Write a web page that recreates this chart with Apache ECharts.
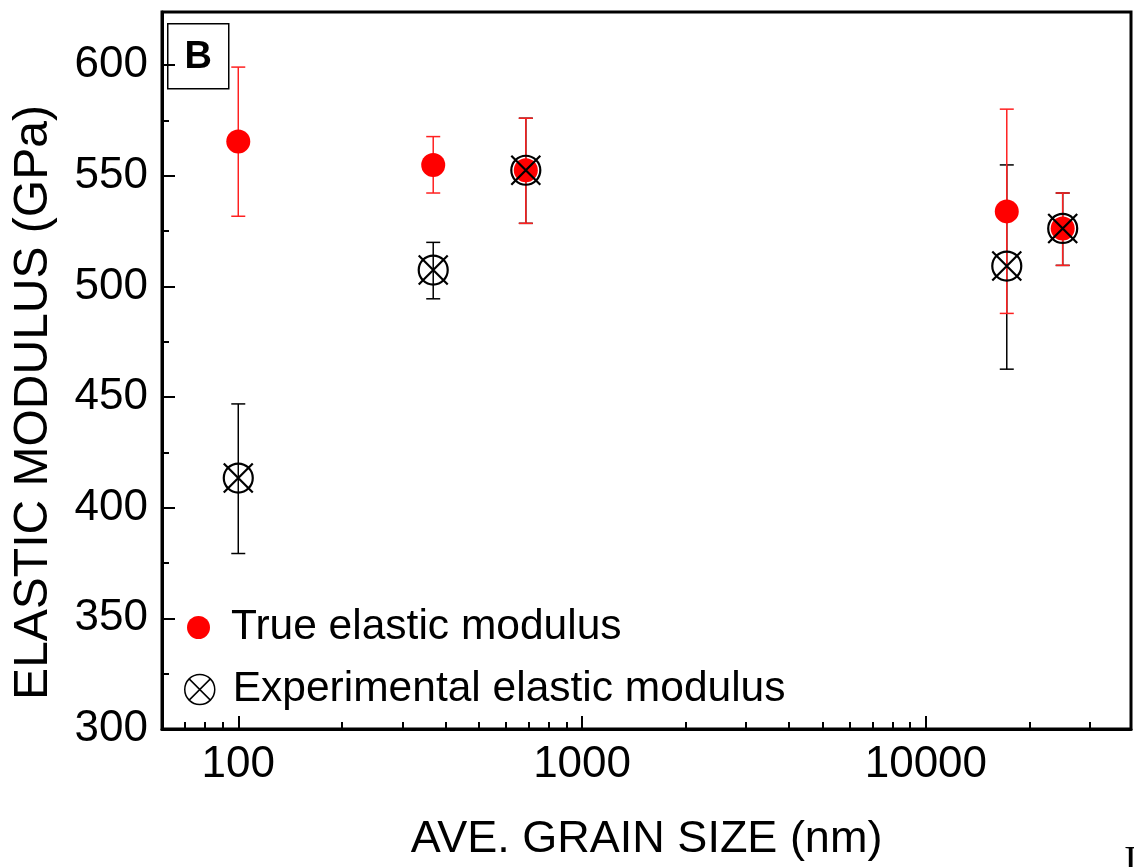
<!DOCTYPE html>
<html><head><meta charset="utf-8">
<script src="https://cdn.jsdelivr.net/npm/echarts@6/dist/echarts.min.js"></script>
<style>html,body{margin:0;padding:0;background:#fff}#c{width:1134px;height:867px}</style>
</head><body><div id="c"></div>
<script>
// ---- data ----
const grainSize   = [100, 369, 686, 17190, 25000];
const trueModulus = [565.5, 554.9, 552.5, 533.9, 526.2];
const trueLow     = [531.7, 542.2, 528.5, 487.8, 509.5];
const trueHigh    = [599.1, 567.7, 576.0, 580.1, 542.2];
const expModulus  = [413.4, 507.4, 552.5, 509.2, 526.2];
const expLow      = [379.3, 494.4, 528.5, 462.6, 509.5];
const expHigh     = [446.9, 519.9, 576.0, 554.9, 542.2];
const xMajorTicks = [100, 1000, 10000];
const xMinorTicks = [70, 80, 90, 200, 300, 400, 500, 600, 700, 800, 900,
                     2000, 3000, 4000, 5000, 6000, 7000, 8000, 9000, 20000, 30000];
const yMajorTicks = [300, 350, 400, 450, 500, 550, 600];
const yMinorTicks = [325, 375, 425, 475, 525, 575];
const seriesNames = ['True elastic modulus', 'Experimental elastic modulus'];

const FONT = '"Liberation Sans", Arial, Helvetica, sans-serif';
const X_MIN = 60, X_MAX = 39500, Y_MIN = 300, Y_MAX = 624;

const trueBars = grainSize.map((x, i) => [x, trueLow[i], trueHigh[i]]);
const expBars  = grainSize.map((x, i) => [x, expLow[i], expHigh[i]]);
const truePts  = grainSize.map((x, i) => [x, trueModulus[i]]);
const expPts   = grainSize.map((x, i) => [x, expModulus[i]]);

const OTIMES_MARK = 'path://M29,15 A14,14 0 1 1 1,15 A14,14 0 1 1 29,15 Z M1,1 L29,29 M29,1 L1,29';
const OTIMES_GLYPH = 'path://M29,15 A14,14 0 1 1 1,15 A14,14 0 1 1 29,15 Z M5.1,5.1 L24.9,24.9 M24.9,5.1 L5.1,24.9';

function errBar(color) {
  return function (params, api) {
    const x = api.value(0), lo = api.value(1), hi = api.value(2);
    const pLo = api.coord([x, lo]), pHi = api.coord([x, hi]);
    const hw = 7;
    const style = { stroke: color, lineWidth: 1.5, fill: null };
    return { type: 'group', children: [
      { type: 'line', shape: { x1: pLo[0], y1: pLo[1], x2: pHi[0], y2: pHi[1] }, style },
      { type: 'line', shape: { x1: pLo[0] - hw, y1: pLo[1], x2: pLo[0] + hw, y2: pLo[1] }, style },
      { type: 'line', shape: { x1: pHi[0] - hw, y1: pHi[1], x2: pHi[0] + hw, y2: pHi[1] }, style }
    ]};
  };
}

const chart = echarts.init(document.getElementById('c'), null, { renderer: 'canvas' });
chart.setOption({
  animation: false,
  backgroundColor: '#fff',
  textStyle: { fontFamily: FONT, color: '#000' },
  grid: { left: 162, right: 3, top: 12, bottom: 138, show: true, borderColor: '#000', borderWidth: 3, backgroundColor: 'transparent', containLabel: false },
  xAxis: [{
    type: 'log', logBase: 10, min: X_MIN, max: X_MAX,
    name: 'AVE. GRAIN SIZE (nm)', nameLocation: 'middle', nameGap: 88,
    nameTextStyle: { fontSize: 45, fontFamily: FONT, color: '#000' },
    axisLine: { show: true, lineStyle: { color: '#000', width: 3 } },
    axisTick: { show: true, inside: true, length: 13, customValues: xMajorTicks, lineStyle: { color: '#000', width: 2 } },
    axisLabel: { show: true, customValues: xMajorTicks, fontSize: 44, fontFamily: FONT, color: '#000', margin: 14,
                 formatter: v => String(Math.round(v)) },
    splitLine: { show: false }, minorTick: { show: false }
  }, {
    type: 'log', logBase: 10, min: X_MIN, max: X_MAX, position: 'bottom', gridIndex: 0,
    axisLine: { show: false },
    axisTick: { show: true, inside: true, length: 7, customValues: xMinorTicks, lineStyle: { color: '#000', width: 2 } },
    axisLabel: { show: false }, splitLine: { show: false }
  }],
  yAxis: [{
    type: 'value', min: Y_MIN, max: Y_MAX,
    name: 'ELASTIC MODULUS (GPa)', nameLocation: 'middle', nameGap: 104,
    nameTextStyle: { fontSize: 48, fontFamily: FONT, color: '#000', padding: [0, 64, 0, 0] },
    axisLine: { show: true, lineStyle: { color: '#000', width: 3 } },
    axisTick: { show: true, inside: true, length: 13, customValues: yMajorTicks, lineStyle: { color: '#000', width: 2 } },
    axisLabel: { show: true, customValues: yMajorTicks, fontSize: 44, fontFamily: FONT, color: '#000', margin: 14 },
    splitLine: { show: false }
  }, {
    type: 'value', min: Y_MIN, max: Y_MAX, position: 'left', gridIndex: 0,
    axisLine: { show: false },
    axisTick: { show: true, inside: true, length: 7, customValues: yMinorTicks, lineStyle: { color: '#000', width: 2 } },
    axisLabel: { show: false }, splitLine: { show: false }
  }],
  legend: [{
    orient: 'vertical', left: 187, top: 606, padding: 0, itemWidth: 23, itemHeight: 23,
    selectedMode: false,
    textStyle: { fontSize: 42.5, fontFamily: FONT, color: '#000', padding: [4, 0, 0, 16] },
    data: [{ name: seriesNames[0], icon: 'circle', itemStyle: { color: '#ff0000' } }]
  }, {
    orient: 'vertical', left: 184, top: 668, padding: 0, itemWidth: 30, itemHeight: 30,
    selectedMode: false,
    textStyle: { fontSize: 42.5, fontFamily: FONT, color: '#000', padding: [2, 0, 0, 13] },
    data: [{ name: seriesNames[1], icon: OTIMES_GLYPH, itemStyle: { color: 'transparent', borderColor: '#000', borderWidth: 1.5 } }]
  }],
  graphic: [
    { type: 'group', left: 167, top: 23, z: 100, children: [
      { type: 'rect', shape: { x: 0, y: 0, width: 61, height: 65 }, style: { fill: '#fff', stroke: '#000', lineWidth: 1.5 } },
      { type: 'text', x: 30.5, y: 34, style: { text: 'B', fontSize: 38, fontWeight: 'bold', fontFamily: FONT, fill: '#000', align: 'center', verticalAlign: 'middle' } }
    ]},
    { type: 'text', left: 1124, top: 842, style: { text: 'I', fontSize: 40, fontFamily: '"Liberation Serif", "DejaVu Serif", serif', fill: '#000' } }
  ],
  series: [
    { type: 'custom', name: 'expErr', xAxisIndex: 0, yAxisIndex: 0, renderItem: errBar('#000'), data: expBars, encode: { x: 0, y: [1, 2] }, z: 2 },
    { type: 'custom', name: 'trueErr', xAxisIndex: 0, yAxisIndex: 0, renderItem: errBar('#ff2020'), data: trueBars, encode: { x: 0, y: [1, 2] }, z: 3 },
    { type: 'scatter', name: seriesNames[0], xAxisIndex: 0, yAxisIndex: 0, data: truePts, symbol: 'circle', symbolSize: 24,
      itemStyle: { color: '#ff0000', opacity: 1 }, z: 4 },
    { type: 'scatter', name: seriesNames[1], xAxisIndex: 0, yAxisIndex: 0, data: expPts, symbol: OTIMES_MARK, symbolSize: 29,
      itemStyle: { color: 'transparent', borderColor: '#000', borderWidth: 2.2, opacity: 1 }, z: 5 }
  ]
});
</script>
</body></html>
